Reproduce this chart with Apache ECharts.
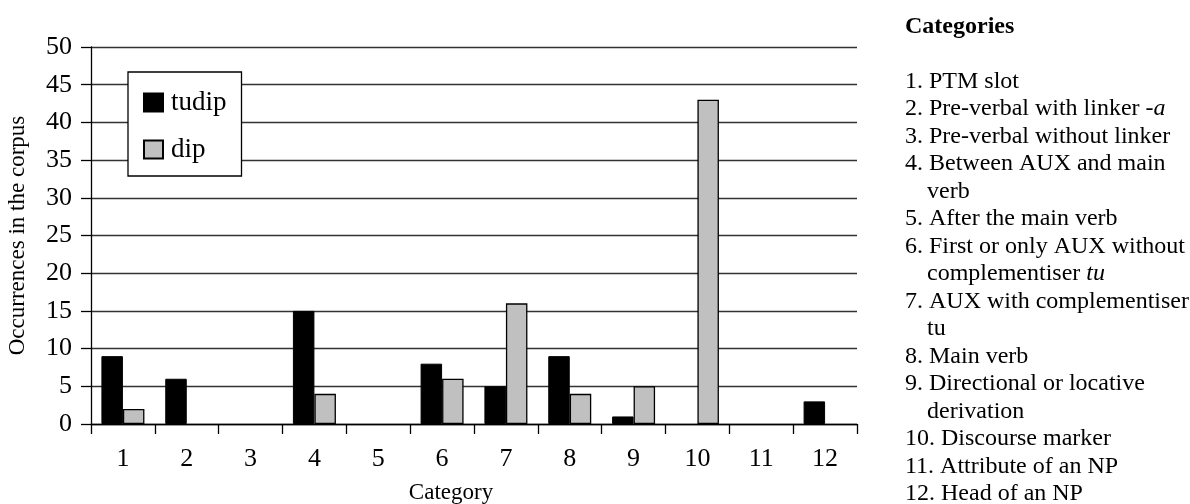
<!DOCTYPE html>
<html>
<head>
<meta charset="utf-8">
<script src="https://cdn.jsdelivr.net/npm/echarts@6/dist/echarts.min.js"></script>
<style>
html,body{margin:0;padding:0;background:#fff;}
#chart{width:1190px;height:504px;}
</style>
</head>
<body>
<div id="chart"></div>
<script>
var categories = ['1','2','3','4','5','6','7','8','9','10','11','12'];
var tudip = [9, 6, 0, 15, 0, 8, 5, 9, 1, 0, 0, 3];
var dip = [2, 0, 0, 4, 0, 6, 16, 4, 5, 43, 0, 0];
var seriesNames = ['tudip', 'dip'];
var yTicks = {min: 0, max: 50, interval: 5};
var listTitle = 'Categories';
var listLines = [
  '1. PTM slot',
  '2. Pre-verbal with linker {i|-a}',
  '3. Pre-verbal without linker',
  '4. Between AUX and main',
  '   verb',
  '5. After the main verb',
  '6. First or only AUX without',
  '   complementiser {i|tu}',
  '7. AUX with complementiser',
  '   tu',
  '8. Main verb',
  '9. Directional or locative',
  '   derivation',
  '10. Discourse marker',
  '11. Attribute of an NP',
  '12. Head of an NP'
];

var FONT = 'Liberation Serif';
function nz(v) { return v === 0 ? '-' : v; }
var chart = echarts.init(document.getElementById('chart'), null, {renderer: 'canvas'});

var graphics = [{
  type: 'text', left: 905, top: 28 - 13,
  style: {text: listTitle, fontFamily: FONT, fontSize: 24, fontWeight: 'bold', fill: '#000'}
}];
listLines.forEach(function (ln, k) {
  var indent = /^\s+/.test(ln);
  graphics.push({
    type: 'text',
    left: indent ? 927 : 905,
    top: 82.5 + k * 27.5 - 13,
    style: {
      text: ln.replace(/^\s+/, ''),
      fontFamily: FONT, fontSize: 24,
      fill: '#000',
      rich: {i: {fontStyle: 'italic', fontSize: 24, fontFamily: FONT}}
    }
  });
});

chart.setOption({
  animation: false,
  backgroundColor: '#fff',
  textStyle: {fontFamily: FONT, color: '#000'},
  grid: {left: 91, right: 333, top: 47, bottom: 80, containLabel: false, outerBoundsMode: 'none'},
  legend: {
    left: 128, top: 72,
    orient: 'vertical',
    data: seriesNames,
    itemWidth: 19, itemHeight: 18, itemGap: 20,
    padding: [17, 15, 13, 15],
    borderColor: '#000', borderWidth: 1.3,
    backgroundColor: '#fff',
    icon: 'rect',
    textStyle: {fontFamily: FONT, fontSize: 27, color: '#000', padding: [0, 0, 0, 3]}
  },
  xAxis: {
    type: 'category',
    data: categories,
    name: 'Category',
    nameLocation: 'middle',
    nameGap: 57,
    nameTextStyle: {fontFamily: FONT, fontSize: 23, color: '#000', padding: [0, 46, 0, 0]},
    axisLine: {lineStyle: {color: '#000', width: 1.3}},
    axisTick: {show: true, length: 10, lineStyle: {color: '#000', width: 1.3}},
    axisLabel: {fontFamily: FONT, fontSize: 26, color: '#000', margin: 22},
    splitLine: {show: false}
  },
  yAxis: {
    type: 'value',
    min: yTicks.min, max: yTicks.max, interval: yTicks.interval,
    name: 'Occurrences in the corpus',
    nameLocation: 'middle',
    nameGap: 62,
    nameTextStyle: {fontFamily: FONT, fontSize: 23, color: '#000'},
    axisLine: {show: true, lineStyle: {color: '#000', width: 1.3}},
    axisTick: {show: true, length: 10, lineStyle: {color: '#000', width: 1.3}},
    axisLabel: {fontFamily: FONT, fontSize: 26, color: '#000', margin: 19},
    splitLine: {show: true, lineStyle: {color: '#333', width: 1.3}}
  },
  series: [
    {
      name: seriesNames[0], type: 'bar', data: tudip.map(nz),
      barWidth: 21.5, barGap: '0%',
      itemStyle: {color: '#000', borderColor: '#000', borderWidth: 1}
    },
    {
      name: seriesNames[1], type: 'bar', data: dip.map(nz),
      barWidth: 21.5, barGap: '0%',
      itemStyle: {color: '#c0c0c0', borderColor: '#000', borderWidth: 1.3}
    }
  ],
  graphic: graphics
});
</script>
</body>
</html>
